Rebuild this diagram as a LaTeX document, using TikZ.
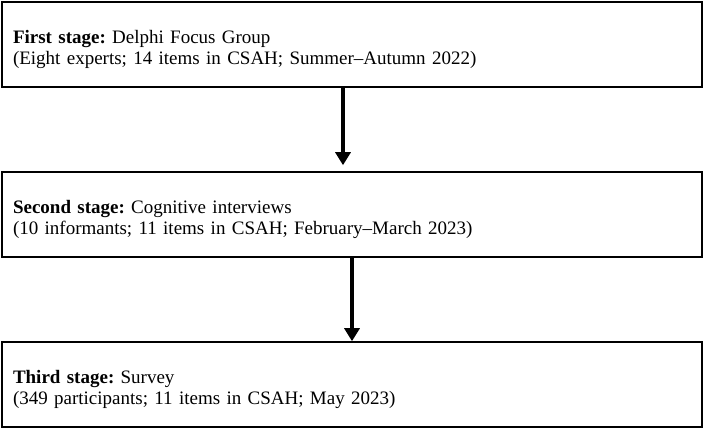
\documentclass[tikz,border=0pt]{standalone}
\usepackage{fontspec}
\setmainfont{Liberation Serif}
\usetikzlibrary{positioning,arrows.meta}
\frenchspacing
\newcommand{\toplift}{\rule{0pt}{23pt}}

\begin{document}
\begin{tikzpicture}[x=1pt,y=-1pt,
  stagebox/.style={draw,line width=1.6pt,minimum width=700pt,minimum height=85pt,
    text width=678pt,align=left,inner sep=0pt,font=\fontsize{19}{21}\selectfont},
  flow/.style={line width=3.5pt,-{Triangle[width=15pt,length=13pt]}}]
\useasboundingbox (0,0) rectangle (704,429);

% Stages
\node[stagebox] (first) at (352,44.5) {\toplift\textbf{First stage:} Delphi Focus Group\\(Eight experts; 14 items in CSAH; Summer--Autumn 2022)};
\node[stagebox] (second) at (352,214.5) {\toplift\textbf{Second stage:} Cognitive interviews\\(10 informants; 11 items in CSAH; February--March 2023)};
\node[stagebox] (third) at (352,384.5) {\toplift\textbf{Third stage:} Survey\\(349 participants; 11 items in CSAH; May 2023)};

% Arrows
\draw[flow] ([xshift=-9pt]first.south) -- ([xshift=-9pt,yshift=6pt]second.north);
\draw[flow] (second.south) -- (third.north);
\end{tikzpicture}
\end{document}
